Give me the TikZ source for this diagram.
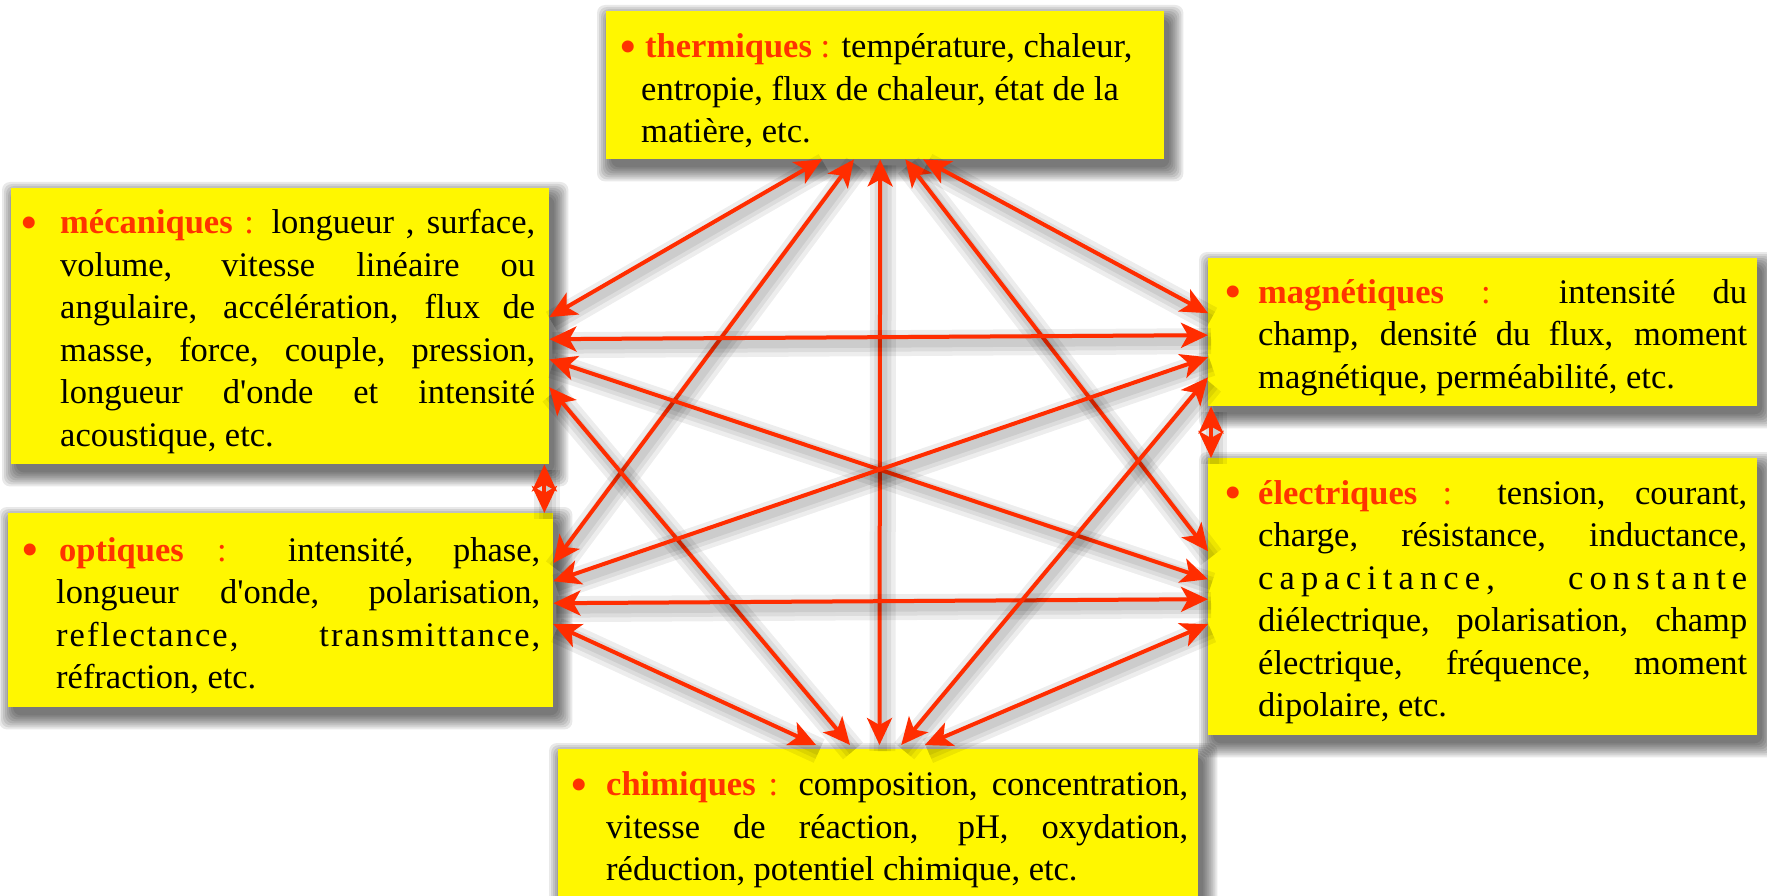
\documentclass[tikz,border=0pt]{standalone}
\usepackage{fontspec}
\setmainfont{Liberation Serif}
\usetikzlibrary{arrows.meta,calc,backgrounds}
\definecolor{boxy}{RGB}{255,247,0}
\definecolor{arrc}{RGB}{255,45,0}
\definecolor{keyc}{RGB}{255,51,0}
\newcommand{\jl}[1]{\makebox[\linewidth][s]{#1}\\}
\newcommand{\kw}[1]{\textcolor{keyc}{\textbf{#1}}}
\newcommand{\colo}{\textcolor{keyc}{:}}
\newcommand{\ap}{\textquotesingle}
\newcommand{\bul}[1]{\noindent\llap{\textcolor{keyc}{\raisebox{-5.5pt}{\fontsize{50}{50}\selectfont\textbullet}}\hspace{#1}}}
\newcommand{\boxtext}[4]{\hspace*{#1}\parbox{#2}{\vspace*{11pt}\fontsize{34.5}{42.5}\selectfont #4}\hspace*{#3}}
\newcommand{\bshadow}[1]{%
  \foreach \k in {0,...,7}{%
    \fill[black,opacity=0.085,rounded corners=8pt]
      ($(#1.north west)+(5-2*\k,-8+2*\k)$) rectangle ($(#1.south east)+(5+2*\k,-8-2*\k)$);}}
\newcommand{\conn}[2]{%
  \draw[ashadow,line width=26pt] ($(#1)+(3,-6)$) -- ($(#2)+(3,-6)$);
  \draw[ashadow,line width=17pt] ($(#1)+(3,-6)$) -- ($(#2)+(3,-6)$);
  \draw[ashadow,line width=9pt] ($(#1)+(3,-6)$) -- ($(#2)+(3,-6)$);
  \draw[arr] (#1) -- (#2);}
\tikzset{
  box/.style={fill=boxy, inner sep=0pt, anchor=north west},
  ashadow/.style={draw=black, opacity=0.07},
  arr/.style={draw=arrc, line width=4pt, <->, >={Stealth[length=27pt,width=25pt,inset=7pt]}},
}
\begin{document}
\begin{tikzpicture}[x=1pt,y=1pt]
\useasboundingbox (0,0) rectangle (1767,-896);

% ---------- boxes ----------
\node[box, minimum height=148pt] (therm) at (606,-11) {\boxtext{35pt}{500pt}{23pt}{%
\bul{4pt}\hspace*{4pt}\mbox{\kw{thermiques} \colo{} température, chaleur,}\\
\mbox{entropie, flux de chaleur, état de la}\\
matière, etc.}};

\node[box, minimum height=276pt] (meca) at (11,-188) {\boxtext{49pt}{475pt}{14pt}{%
\bul{22pt}\jl{\kw{mécaniques} \colo{} longueur , surface,}%
\jl{volume, vitesse linéaire ou}%
\jl{angulaire, accélération, flux de}%
\jl{masse, force, couple, pression,}%
\jl{longueur d\ap onde et intensité}%
acoustique, etc.}};

\node[box, minimum height=194pt] (opt) at (8,-513) {\boxtext{48pt}{484pt}{13pt}{%
\bul{17pt}\jl{\hspace*{3pt}\kw{optiques} \colo{} intensité, phase,}%
\jl{longueur d\ap onde, polarisation,}%
\jl{r\hfil e\hfil f\hfil l\hfil e\hfil c\hfil t\hfil a\hfil n\hfil c\hfil e\hfil ,\hskip 0pt plus 40fil t\hfil r\hfil a\hfil n\hfil s\hfil m\hfil i\hfil t\hfil t\hfil a\hfil n\hfil c\hfil e\hfil ,}%
réfraction, etc.}};

\node[box, minimum height=148pt] (magn) at (1208,-258) {\boxtext{50pt}{489pt}{10pt}{%
\bul{16pt}\jl{\kw{magnétiques} \colo{} intensité du}%
\jl{champ, densité du flux, moment}%
magnétique, perméabilité, etc.}};

\node[box, minimum height=277pt] (elec) at (1208,-458) {\boxtext{50pt}{489pt}{10pt}{%
\bul{16pt}\jl{\kw{électriques} \colo{} tension, courant,}%
\jl{charge, résistance, inductance,}%
\jl{c\hfil a\hfil p\hfil a\hfil c\hfil i\hfil t\hfil a\hfil n\hfil c\hfil e\hfil ,\hskip 0pt plus 12fil c\hfil o\hfil n\hfil s\hfil t\hfil a\hfil n\hfil t\hfil e}%
\jl{diélectrique, polarisation, champ}%
\jl{électrique, fréquence, moment}%
dipolaire, etc.}};

\node[box, minimum height=150pt] (chim) at (558,-749) {\boxtext{48pt}{582pt}{10pt}{%
\bul{18pt}\jl{\kw{chimiques} \colo{} composition, concentration,}%
\jl{vitesse de réaction, pH, oxydation,}%
réduction, potentiel chimique, etc.}};

% ---------- box shadows ----------
\begin{scope}[on background layer]
  \fill[white] (0,0) rectangle (1767,-896);
  \bshadow{therm}\bshadow{meca}\bshadow{opt}\bshadow{magn}\bshadow{elec}\bshadow{chim}
\end{scope}

% ---------- end points ----------
\coordinate (T1) at ($(therm.south west)!0.387!(therm.south east)$);
\coordinate (T2) at ($(therm.south west)!0.444!(therm.south east)$);
\coordinate (T3) at ($(therm.south west)!0.491!(therm.south east)$);
\coordinate (T4) at ($(therm.south west)!0.536!(therm.south east)$);
\coordinate (T5) at ($(therm.south west)!0.568!(therm.south east)$);
\coordinate (M1) at ($(meca.north east)!0.467!(meca.south east)$);
\coordinate (M2) at ($(meca.north east)!0.547!(meca.south east)$);
\coordinate (M3) at ($(meca.north east)!0.620!(meca.south east)$);
\coordinate (M4) at ($(meca.north east)!0.721!(meca.south east)$);
\coordinate (O1) at ($(opt.north east)!0.258!(opt.south east)$);
\coordinate (O2) at ($(opt.north east)!0.351!(opt.south east)$);
\coordinate (O3) at ($(opt.north east)!0.464!(opt.south east)$);
\coordinate (O4) at ($(opt.north east)!0.572!(opt.south east)$);
\coordinate (G1) at ($(magn.north west)!0.372!(magn.south west)$);
\coordinate (G2) at ($(magn.north west)!0.520!(magn.south west)$);
\coordinate (G3) at ($(magn.north west)!0.669!(magn.south west)$);
\coordinate (G4) at ($(magn.north west)!0.804!(magn.south west)$);
\coordinate (E1) at ($(elec.north west)!0.336!(elec.south west)$);
\coordinate (E2) at ($(elec.north west)!0.437!(elec.south west)$);
\coordinate (E3) at ($(elec.north west)!0.509!(elec.south west)$);
\coordinate (E4) at ($(elec.north west)!0.599!(elec.south west)$);
\coordinate (C1) at ($(chim.north west)!0.403!(chim.north east)+(0,4)$);
\coordinate (C2) at ($(chim.north west)!0.456!(chim.north east)+(0,4)$);
\coordinate (C3) at ($(chim.north west)!0.502!(chim.north east)+(0,4)$);
\coordinate (C4) at ($(chim.north west)!0.536!(chim.north east)+(0,4)$);
\coordinate (C5) at ($(chim.north west)!0.573!(chim.north east)+(0,4)$);
\coordinate (MO1) at ($(meca.south east)+(-5,0)$);
\coordinate (MO2) at ($(opt.north east)+(-9,0)$);
\coordinate (GE1) at ($(magn.south west)+(3,0)$);
\coordinate (GE2) at ($(elec.north west)+(3,0)$);

% ---------- connectors ----------
\conn{T1}{M1}
\conn{T2}{O1}
\conn{T3}{C3}
\conn{T4}{E1}
\conn{T5}{G1}
\conn{M2}{G2}
\conn{M3}{E2}
\conn{M4}{C2}
\conn{O2}{G3}
\conn{O3}{E3}
\conn{O4}{C1}
\conn{G4}{C4}
\conn{E4}{C5}
\conn{MO1}{MO2}
\conn{GE1}{GE2}
\end{tikzpicture}
\end{document}
